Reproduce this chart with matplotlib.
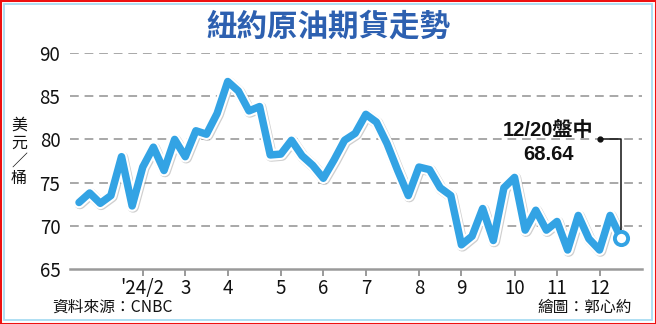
import matplotlib
matplotlib.use("Agg")
import matplotlib.pyplot as plt
import matplotlib.patheffects as pe
from matplotlib.patches import Rectangle

# ---- data ----
prices = [72.7, 73.8, 72.6, 73.5, 78.0, 72.3, 76.8, 79.1, 76.4, 80.0,
          78.0, 81.0, 80.6, 83.0, 86.7, 85.6, 83.3, 83.8, 78.2, 78.3,
          79.9, 78.1, 77.0, 75.5, 77.6, 79.9, 80.7, 82.9, 82.0, 79.5,
          76.4, 73.5, 76.8, 76.5, 74.4, 73.5, 67.8, 68.8, 72.0, 68.3,
          74.4, 75.6, 69.5, 71.8, 69.5, 70.5, 67.2, 71.2, 68.5, 67.2,
          71.2, 68.64]
month_pos = [6, 10, 14, 19, 23, 27, 32, 36, 41, 45, 49]
month_labels = ["'24/2", "3", "4", "5", "6", "7", "8", "9", "10", "11", "12"]
y_ticks = [65, 70, 75, 80, 85, 90]
last_label = "12/20盤中"
last_value = 68.64
annot_anchor = (49, 80)

title = "紐約原油期貨走勢"
ylabel = "美\n元\n／\n桶"
source = "資料來源：CNBC"
credit = "繪圖：郭心約"

NUM = ['Liberation Sans Narrow', 'Noto Sans CJK TC', 'DejaVu Sans']
CJK = ['Noto Sans CJK TC', 'DejaVu Sans']
plt.rcParams['font.family'] = NUM

W, H = 656, 324
fig = plt.figure(figsize=(W / 100, H / 100), dpi=100)
fig.patch.set_facecolor('white')

# frame
fig.patches.append(Rectangle((0, 0), 1, 1, transform=fig.transFigure, fill=False,
                             edgecolor='#ee1111', linewidth=2.2, zorder=0))
fig.patches.append(Rectangle((4 / W, 4 / H), 1 - 8 / W, 1 - 8 / H, transform=fig.transFigure,
                             fill=False, edgecolor='#a8dcf2', linewidth=1.3, zorder=0))

ax = fig.add_axes([70 / W, (H - 269) / H, (642 - 70) / W, (269 - 53) / H])
ax.set_facecolor('none')
x = list(range(len(prices)))
ax.set_xlim(-0.85, 53.0)
ax.set_ylim(65, 90)

for s in ['top', 'right', 'left']:
    ax.spines[s].set_visible(False)
ax.spines['bottom'].set_color('#9a9a9a')
ax.spines['bottom'].set_linewidth(1.8)

for yv in y_ticks[1:]:
    ax.axhline(yv, color='#a8a8a8', linewidth=1.4, dashes=(4.5, 3.0), zorder=1)

ax.set_yticks(y_ticks)
ax.set_yticklabels([str(v) for v in y_ticks], fontsize=13.5, color='#111111')
ax.tick_params(axis='y', length=0, pad=7)
ax.set_xticks(month_pos)
ax.set_xticklabels(month_labels, fontsize=13.5, color='#111111')
ax.tick_params(axis='x', length=5, width=1.4, color='#9a9a9a', pad=1.5)

line_color = '#33a3e4'
ax.plot(x, prices, color=line_color, linewidth=5.4, solid_joinstyle='round',
        solid_capstyle='round', zorder=3,
        path_effects=[pe.SimpleLineShadow(offset=(0.7, -0.7), shadow_color='#888888', alpha=0.4,
                                          linewidth=8.4),
                      pe.Stroke(linewidth=8.4, foreground='white', joinstyle='round'),
                      pe.Normal()])
ax.plot([x[-1]], [prices[-1]], marker='o', markersize=9.5, markerfacecolor='white',
        markeredgecolor=line_color, markeredgewidth=2.8, zorder=5, clip_on=False)

# annotation leader
ax.plot([annot_anchor[0], x[-1], x[-1]], [annot_anchor[1], annot_anchor[1], last_value + 0.9],
        color='#111111', linewidth=1.1, zorder=4)
ax.plot([annot_anchor[0]], [annot_anchor[1]], marker='o', markersize=3.5, color='#111111', zorder=4)
ax.text(44.2, 81.0, last_label, ha='center', va='center', fontsize=14.5, fontweight='bold',
        color='#111111', family=['Liberation Sans', 'Noto Sans CJK TC', 'DejaVu Sans'])
ax.text(44.2, 78.3, f"{last_value:.2f}", ha='center', va='center', fontsize=14.5, fontweight='bold',
        color='#111111', family=['Liberation Sans', 'DejaVu Sans'])

# texts
fig.text(328 / W, 1 - 27 / H, title, ha='center', va='center', fontsize=22,
         color='#2d60b0', family=CJK, fontweight='bold')
fig.text(19 / W, 1 - 152 / H, ylabel, ha='center', va='center', fontsize=11.5,
         color='#111111', family=CJK, linespacing=1.05)
fig.text(52 / W, 1 - 307 / H, source, ha='left', va='center', fontsize=11.3,
         color='#111111', family=CJK)
fig.text(632 / W, 1 - 307 / H, credit, ha='right', va='center', fontsize=11.3,
         color='#111111', family=CJK)

fig.savefig('out.png', dpi=100, facecolor='white')
